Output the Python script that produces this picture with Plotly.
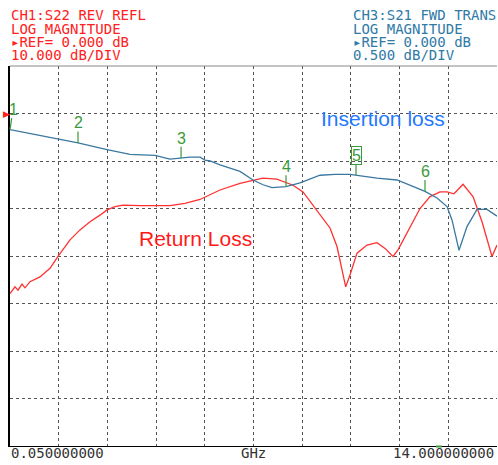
import plotly.graph_objects as go

# ---- data ----
il_freq = [0.05, 0.623, 1.425, 1.998, 2.829, 3.487, 4.203, 4.633, 4.92, 5.206, 5.493, 5.636, 5.779,
           6.065, 6.638, 7.011, 7.297, 7.555, 7.956, 8.357, 8.93, 9.36, 9.789, 9.961, 10.563, 11.136,
           11.709, 11.938, 12.281, 12.568, 12.711, 12.912, 13.141, 13.427, 13.714, 14.0]
il_db = [-0.17, -0.21, -0.27, -0.31, -0.38, -0.43, -0.44, -0.48, -0.47, -0.46, -0.46, -0.49, -0.50,
         -0.54, -0.61, -0.70, -0.75, -0.78, -0.77, -0.73, -0.65, -0.64, -0.64, -0.65, -0.68, -0.70,
         -0.78, -0.82, -0.89, -0.98, -1.12, -1.44, -1.19, -1.01, -1.01, -1.08]

rl_freq = [0.05, 0.193, 0.279, 0.394, 0.48, 0.623, 0.909, 1.196, 1.425, 1.769, 2.055, 2.342, 2.628,
           2.829, 3.058, 3.287, 3.774, 4.633, 5.063, 5.493, 6.065, 6.638, 7.011, 7.297, 7.698, 8.157,
           8.443, 8.73, 9.016, 9.216, 9.417, 9.56, 9.666, 9.789, 9.99, 10.276, 10.563, 10.792, 11.021,
           11.164, 11.508, 11.794, 12.081, 12.367, 12.568, 12.768, 13.026, 13.313, 13.571, 13.714,
           13.857, 14.0]
rl_db = [-37.9, -36.5, -37.2, -35.9, -36.7, -35.4, -34.4, -32.6, -30.1, -26.6, -24.5, -22.8, -21.4,
         -20.3, -19.6, -19.3, -19.4, -19.4, -18.9, -18.1, -16.1, -14.7, -14.1, -13.6, -13.8, -15.1,
         -16.5, -19.3, -22.1, -24.1, -28.0, -32.9, -36.5, -34.0, -29.4, -27.7, -27.2, -28.4, -30.1,
         -28.7, -23.8, -20.0, -17.5, -16.5, -16.5, -16.9, -14.9, -17.5, -22.8, -26.6, -30.1, -27.7]

marker_labels = ["1", "2", "3", "4", "5", "6"]
marker_freq = [0.05, 1.998, 4.95, 7.956, 9.961, 11.938]
marker_db = [-0.17, -0.31, -0.47, -0.77, -0.65, -0.82]
active_marker = "5"

ch1_header = ["CH1:S22 REV REFL", "LOG MAGNITUDE", "▸REF= 0.000 dB", "10.000 dB/DIV"]
ch3_header = ["CH3:S21 FWD TRANS", "LOG MAGNITUDE", "▸REF= 0.000 dB", "0.500 dB/DIV"]
start_label = "0.050000000"
stop_label = "14.000000000"
unit_label = "GHz"

f_start, f_stop = 0.05, 14.0
rl_ref_top, rl_per_div = 10, 10
il_ref_top, il_per_div = 0.5, 0.5
n_xdiv, n_ydiv = 10, 8

# ---- layout geometry ----
W, H = 498, 465
L, R, T, B = 10, 1, 66, 19
PW, PH = W - L - R, H - T - B


def px(xp):
    return (xp - L) / PW


def py(yp):
    return (H - B - yp) / PH


RED = "#ff2020"
BLUE_TR = "#3a78a0"
BLUE_HDR = "#2f7aa6"
GREEN = "#3a9a3a"
MONO = "DejaVu Sans Mono"

fig = go.Figure()
fig.add_trace(go.Scatter(x=rl_freq, y=rl_db, mode="lines", line=dict(color="#ff3030", width=1.3),
                         yaxis="y", showlegend=False, hoverinfo="skip"))
fig.add_trace(go.Scatter(x=il_freq, y=il_db, mode="lines", line=dict(color=BLUE_TR, width=1.3),
                         yaxis="y2", showlegend=False, hoverinfo="skip"))

ann = []
for i, t in enumerate(ch1_header):
    ann.append(dict(xref="paper", yref="paper", x=px(9), y=py(15 + i * 13.5), xanchor="left",
                    yanchor="middle", text=t, showarrow=False,
                    font=dict(family=MONO, size=14, color=RED)))
for i, t in enumerate(ch3_header):
    ann.append(dict(xref="paper", yref="paper", x=px(351), y=py(15 + i * 13.5), xanchor="left",
                    yanchor="middle", text=t, showarrow=False,
                    font=dict(family=MONO, size=14, color=BLUE_HDR)))
ann.append(dict(xref="paper", yref="paper", x=px(9), y=py(453), xanchor="left", yanchor="middle",
                text=start_label, showarrow=False, font=dict(family=MONO, size=14, color="#333")))
ann.append(dict(xref="paper", yref="paper", x=px(253), y=py(453), xanchor="center", yanchor="middle",
                text=unit_label, showarrow=False, font=dict(family=MONO, size=14, color="#333")))
ann.append(dict(xref="paper", yref="paper", x=px(496), y=py(453), xanchor="right", yanchor="middle",
                text=stop_label, showarrow=False, font=dict(family=MONO, size=14, color="#333")))

ann.append(dict(xref="paper", yref="paper", x=px(195), y=py(238), xanchor="center", yanchor="middle",
                text="Return Loss", showarrow=False,
                font=dict(family="Liberation Sans", size=21, color="#ff1a1a")))
ann.append(dict(xref="paper", yref="paper", x=px(383), y=py(118), xanchor="center", yanchor="middle",
                text="Insertion loss", showarrow=False,
                font=dict(family="Liberation Sans", size=21, color="#1f78ff")))

# reference triangle
ann.append(dict(xref="paper", yref="paper", x=px(1), y=py(113.5), xanchor="left", yanchor="middle",
                text="▶", showarrow=False, font=dict(family="DejaVu Sans", size=9, color=RED)))

for lab, f, d in zip(marker_labels, marker_freq, marker_db):
    boxed = lab == active_marker
    ann.append(dict(x=f, y=d, xref="x", yref="y2", text=lab, showarrow=True, arrowhead=0,
                    arrowwidth=1.2, arrowcolor=GREEN, ax=3 if lab == "1" else 0, ay=-20,
                    font=dict(family="Liberation Sans", size=16, color=GREEN),
                    bordercolor=GREEN if boxed else None, borderwidth=1 if boxed else 0,
                    borderpad=0))

shapes = [
    dict(type="rect", xref="paper", yref="paper", x0=px(113), x1=px(292), y0=py(265), y1=py(212),
         fillcolor="white", line=dict(width=0), layer="between"),
    dict(type="rect", xref="paper", yref="paper", x0=px(299), x1=px(467), y0=py(142), y1=py(88),
         fillcolor="white", line=dict(width=0), layer="between"),
    dict(type="line", xref="paper", yref="paper", x0=px(436), x1=px(442), y0=py(446.5), y1=py(446.5),
         line=dict(color=GREEN, width=2)),
    dict(type="line", xref="paper", yref="paper", x0=0, x1=1, y0=1, y1=1,
         line=dict(color="#888", width=1)),
]

fig.update_layout(
    width=W, height=H, margin=dict(l=L, r=R, t=T, b=B),
    paper_bgcolor="white", plot_bgcolor="white",
    annotations=ann, shapes=shapes,
    xaxis=dict(range=[f_start, f_stop], tick0=f_start, dtick=(f_stop - f_start) / n_xdiv,
               showticklabels=False, ticks="", showgrid=True, gridcolor="#555", griddash="dot",
               gridwidth=1, zeroline=False, showline=True, linecolor="black", linewidth=1),
    yaxis=dict(range=[rl_ref_top - n_ydiv * rl_per_div, rl_ref_top], dtick=rl_per_div,
               showticklabels=False, ticks="", showgrid=True, gridcolor="#555", griddash="dot",
               gridwidth=1, zeroline=False, showline=True, linecolor="black", linewidth=2),
    yaxis2=dict(range=[il_ref_top - n_ydiv * il_per_div, il_ref_top], overlaying="y",
                showticklabels=False, ticks="", showgrid=False, zeroline=False, showline=False),
)

fig.write_html("out.html", config={"displayModeBar": False},
               post_script="document.body.style.margin='0';document.body.style.overflow='hidden';")
